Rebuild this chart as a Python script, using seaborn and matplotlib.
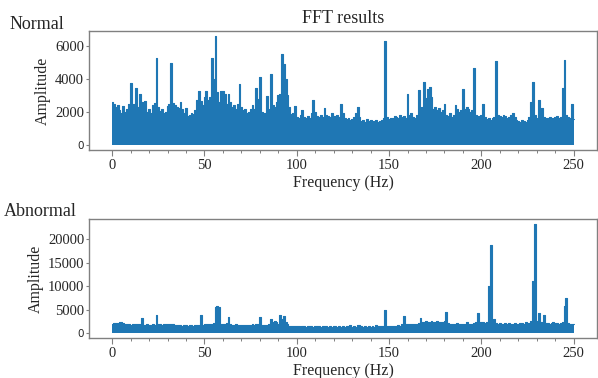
import matplotlib
matplotlib.use("Agg")
import matplotlib.pyplot as plt
from matplotlib.ticker import FixedLocator
import numpy as np
import pandas as pd
import seaborn as sns

# ---------------- data (envelope read per 1 Hz from the reference) ----------------
freq = list(range(0, 251))

normal_amp = [
    2600, 2450, 2300, 2400, 2100, 1900, 2350, 2000, 2150, 2500,   # 0-9
    3750, 2200, 2450, 3450, 2300, 3100, 2600, 2200, 2650, 2000,   # 10-19
    2150, 1950, 2400, 2550, 5300, 2300, 2050, 2150, 1950, 2000,   # 20-29
    2350, 2500, 4950, 2550, 2400, 2300, 2250, 2600, 2150, 1900,   # 30-39
    2250, 1750, 1800, 1900, 1850, 2100, 2700, 3300, 2650, 2400,   # 40-49
    2900, 3300, 2700, 2900, 5300, 4000, 6600, 3200, 2600, 3250,   # 50-59
    3300, 3100, 2500, 3100, 2600, 2300, 2400, 2200, 2500, 3700,   # 60-69
    2300, 2100, 2200, 1900, 2000, 2150, 2400, 2200, 3450, 2800,   # 70-79
    4100, 2000, 1850, 1900, 2950, 2200, 4300, 2400, 2300, 2600,   # 80-89
    3000, 3100, 5550, 4900, 4000, 3000, 2300, 1850, 1950, 2350,   # 90-99
    1700, 1650, 1800, 2100, 1700, 1650, 1750, 1600, 1900, 2700,   # 100-109
    2000, 1750, 1700, 1800, 1700, 2250, 1800, 1750, 1700, 1900,   # 110-119
    1750, 1700, 1800, 1700, 2450, 1900, 1600, 1550, 1600, 1500,   # 120-129
    1550, 1700, 1900, 2300, 1700, 1450, 1500, 1400, 1550, 1450,   # 130-139
    1500, 1400, 1450, 1500, 1400, 1450, 1500, 1600, 6350, 1700,   # 140-149
    1550, 1600, 1650, 1750, 1700, 1650, 1800, 1700, 1750, 1650,   # 150-159
    3100, 1800, 1900, 1700, 1650, 1800, 3350, 2050, 2300, 3800,   # 160-169
    2850, 3400, 3500, 2900, 2200, 2300, 2100, 2250, 2000, 2100,   # 170-179
    2450, 1800, 1750, 1900, 1700, 1800, 2400, 2150, 2000, 2100,   # 180-189
    3400, 2200, 2300, 2150, 2000, 2100, 4700, 1800, 1750, 1700,   # 190-199
    1800, 2500, 1700, 1550, 1600, 1500, 1650, 1700, 5100, 1800,   # 200-209
    1750, 1700, 1800, 1750, 1650, 1700, 1800, 1900, 1700, 1500,   # 210-219
    1450, 1400, 1500, 1450, 1400, 1500, 1700, 2600, 3850, 1800,   # 220-229
    1650, 2750, 1800, 2250, 1700, 1650, 1600, 1700, 1650, 1600,   # 230-239
    1700, 1750, 1600, 1700, 3450, 5150, 1800, 1700, 1650, 2450,   # 240-249
    1550,                                                         # 250
]

abnormal_amp = [
    2000, 2100, 2050, 2150, 2350, 2400, 2200, 1850, 1800, 1900,   # 0-9
    1750, 1850, 1800, 1950, 1800, 1850, 3150, 1750, 1700, 1800,   # 10-19
    1750, 1700, 1800, 1750, 3800, 1800, 1850, 1750, 1900, 1800,   # 20-29
    1950, 1900, 2000, 1850, 1700, 1650, 1600, 1650, 1550, 1600,   # 30-39
    1650, 1550, 1600, 1650, 1550, 1600, 1650, 1700, 3750, 1700,   # 40-49
    1800, 1900, 1850, 2000, 1900, 2100, 5600, 5650, 5550, 2000,   # 50-59
    1900, 1850, 2100, 3450, 1900, 1750, 1700, 1800, 1650, 1700,   # 60-69
    1750, 1650, 1700, 1600, 1700, 1750, 1800, 1700, 1800, 1900,   # 70-79
    3300, 1700, 1650, 1600, 1700, 1800, 3050, 2400, 2500, 2300,   # 80-89
    1900, 3900, 2900, 3700, 2400, 1800, 1500, 1450, 1400, 1450,   # 90-99
    1400, 1450, 1350, 1400, 1450, 1350, 1400, 1450, 1400, 1350,   # 100-109
    1400, 1450, 1400, 1350, 1400, 1450, 1400, 1350, 1400, 1350,   # 110-119
    1400, 1450, 1350, 1400, 1350, 1400, 1350, 1400, 1350, 1600,   # 120-129
    1350, 1400, 1350, 1700, 1650, 1400, 1350, 1400, 1350, 1400,   # 130-139
    1350, 1400, 1350, 1700, 1450, 1400, 1450, 1400, 5000, 1450,   # 140-149
    1500, 1450, 1500, 1450, 1500, 1600, 1550, 2000, 3700, 1900,   # 150-159
    1850, 1900, 1950, 1900, 2000, 1950, 2100, 3150, 2400, 2300,   # 160-169
    2500, 2400, 2350, 2600, 2400, 2300, 2450, 2350, 2400, 2300,   # 170-179
    2500, 4400, 2100, 1950, 1900, 2000, 1950, 2100, 1900, 2000,   # 180-189
    1950, 2000, 2300, 1950, 1900, 2000, 2100, 2300, 4200, 2300,   # 190-199
    2250, 2300, 2200, 2400, 10100, 18800, 2500, 3000, 2200, 2000, # 200-209
    2100, 1900, 2000, 2200, 1950, 2100, 1900, 2000, 2050, 1900,   # 210-219
    2000, 2100, 2200, 2000, 2300, 2100, 2200, 2600, 11200, 23200, # 220-229
    2500, 4200, 2300, 2300, 3850, 2100, 2200, 2000, 2100, 2300,   # 230-239
    2100, 2200, 2000, 2100, 2300, 5700, 7400, 2100, 2000, 1900,   # 240-249
    1900,                                                         # 250
]

panel_names = ["Normal", "Abnormal"]
title_text = "FFT results"
x_label = "Frequency (Hz)"
y_label = "Amplitude"
x_ticks = [0, 50, 100, 150, 200, 250]
y_ticks_normal = [0, 2000, 4000, 6000]
y_ticks_abnormal = [0, 5000, 10000, 15000, 20000]

# ---------------- style ----------------
sns.set_style("white")
plt.rcParams["font.family"] = ["Liberation Serif", "DejaVu Serif"]
line_color = "#1f77b4"
spine_color = "#808080"

fig = plt.figure(figsize=(5.98, 3.78), dpi=100)
ax1 = fig.add_axes([0.149, 0.603, 0.849, 0.315])
ax2 = fig.add_axes([0.149, 0.105, 0.849, 0.3155])


def draw_panel(ax, amps, yticks):
    df = pd.DataFrame({"freq": freq, "amp": amps})
    ax.fill_between(df["freq"], 0, df["amp"], step="mid", color=line_color, linewidth=0)
    sns.lineplot(data=df, x="freq", y="amp", ax=ax, color=line_color,
                 linewidth=0.8, drawstyle="steps-mid")
    ax.set_xticks(x_ticks)
    ax.set_xticklabels([str(t) for t in x_ticks])
    ax.xaxis.set_minor_locator(FixedLocator([v for v in range(10, 250, 10) if v % 50]))
    ax.set_yticks(yticks)
    ax.set_yticklabels([str(t) for t in yticks])
    ax.set_xlabel(x_label, fontsize=11.5, labelpad=2)
    ax.set_ylabel(y_label, fontsize=11.5, labelpad=3)
    ax.tick_params(axis="x", which="major", length=4, width=0.8, color=spine_color,
                   labelsize=10.5, pad=2.5, direction="out", bottom=True)
    ax.tick_params(axis="x", which="minor", length=2.5, width=0.7, color=spine_color,
                   direction="out", bottom=True)
    ax.tick_params(axis="y", which="major", length=2.5, width=0.8, color=spine_color,
                   labelsize=10.5, pad=1, direction="out", left=True)
    zero_label = ax.yaxis.get_major_ticks()[0].label1
    zero_label.set_fontfamily("DejaVu Sans")
    zero_label.set_fontsize(7.5)
    for s in ax.spines.values():
        s.set_color(spine_color)
        s.set_linewidth(1.0)
        s.set_visible(True)


draw_panel(ax1, normal_amp, y_ticks_normal)
draw_panel(ax2, abnormal_amp, y_ticks_abnormal)

ax1.set_title(title_text, fontsize=13)
fig.text(0.0167, 0.923, panel_names[0], fontsize=13, va="baseline", ha="left")
fig.text(0.006, 0.4286, panel_names[1], fontsize=13, va="baseline", ha="left")

fig.savefig("out.png", dpi=100)
